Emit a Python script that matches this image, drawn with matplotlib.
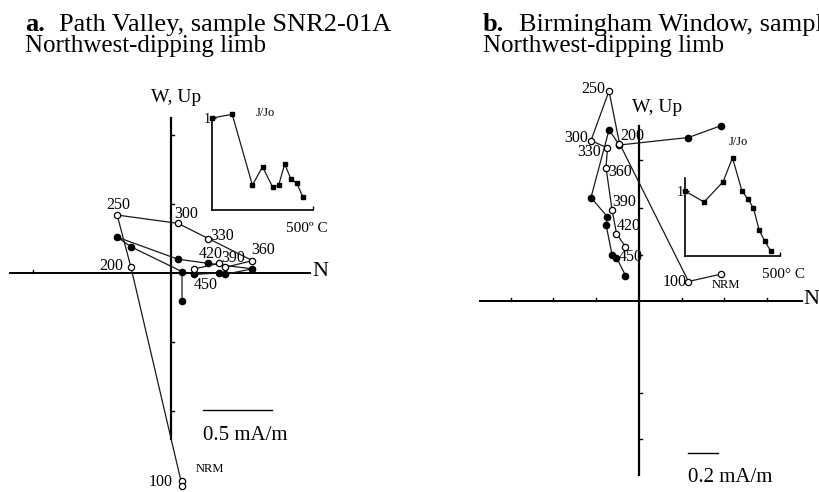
import numpy as np
import matplotlib
matplotlib.use("Agg")
import matplotlib.pyplot as plt

plt.rcParams['font.family'] = ['Liberation Serif', 'DejaVu Serif']

W_PX, H_PX = 819, 492

# demagnetization steps
steps = ['NRM', '100', '200', '250', '300', '330', '360', '390', '420', '450']
steps_c = [0, 100, 200, 250, 300, 330, 360, 390, 420, 450]

# a. Path Valley, SNR2-01A  (mA/m)
a_north = [0.08, 0.08, -0.29, -0.39, 0.05, 0.27, 0.59, 0.39, 0.35, 0.17]
a_west = [-0.20, 0.01, 0.19, 0.26, 0.10, 0.07, 0.03, -0.01, 0.00, -0.01]
a_up = [-1.51, -1.54, 0.04, 0.42, 0.36, 0.25, 0.09, 0.04, 0.07, 0.03]
a_jjo = [1.00, 1.04, 0.27, 0.47, 0.25, 0.27, 0.50, 0.34, 0.29, 0.14]

# b. Birmingham Window  (mA/m)
b_north = [0.55, 0.33, -0.13, -0.20, -0.32, -0.21, -0.22, -0.18, -0.15, -0.09]
b_west = [1.17, 1.09, 1.04, 1.14, 0.69, 0.56, 0.51, 0.31, 0.29, 0.17]
b_up = [0.18, 0.13, 1.05, 1.40, 1.07, 1.02, 0.89, 0.61, 0.45, 0.36]
b_jjo = [1.00, 0.83, 1.14, 1.51, 1.00, 0.88, 0.74, 0.40, 0.23, 0.08]

# label offsets (pixels) for each step
a_offs = [(28, 12), (-21, 4), (-20, 1), (1, 10), (8, 9), (14, 3), (11, 11), (8, 9), (-9, 9), (11, -16)]
b_offs = [(4, -11), (-14, 0), (13, 8), (-16, 2), (-15, 3), (-18, -4), (14, -4), (12, 7), (12, 7), (5, -10)]

fig = plt.figure(figsize=(W_PX / 100, H_PX / 100), dpi=100)
LC = '#1a1a1a'


def px(x, y):
    return x / W_PX, 1 - y / H_PX


def zij(ox, oy, s, north, west, up, offs, hax, vax, xt, yt, bar, bar_lbl):
    ax = fig.add_axes([0, 0, 1, 1])
    ax.set_xlim(-ox / s, (W_PX - ox) / s)
    ax.set_ylim((oy - H_PX) / s, oy / s)
    ax.axis('off')
    ax.patch.set_alpha(0)
    # axes through origin
    ax.plot(hax, [0, 0], color='k', lw=1.4)
    ax.plot([0, 0], vax, color='k', lw=1.6)
    tl = 3.5 / s
    for t in xt:
        ax.plot([t, t], [0, tl], color='k', lw=1)
    for t in yt:
        ax.plot([0, tl], [t, t], color='k', lw=1)
    # horizontal (solid) and vertical (open) projections
    ax.plot(north, west, color=LC, lw=0.9, marker='o', ms=4.5,
            mfc='k', mec='k', zorder=3)
    ax.plot(north, up, color=LC, lw=0.9, marker='o', ms=4.5,
            mfc='white', mec='k', mew=0.9, zorder=4)
    for lbl, n, u, o in zip(steps, north, up, offs):
        ax.annotate(lbl, (n, u), xytext=o, textcoords='offset pixels',
                    ha='center', va='center',
                    fontsize=9 if lbl == 'NRM' else 11.5)
    # scale bar
    ax.plot([bar[0], bar[0] + bar[1]], [bar[2], bar[2]], color='k', lw=1)
    ax.text(bar[0], bar[2] - 16 / s, bar_lbl, fontsize=15, ha='left', va='top')
    return ax


def jjo_inset(left, bottom, right, top, ymax, jjo):
    x0, y0 = px(left, bottom)
    x1, y1 = px(right, top)
    ax = fig.add_axes([x0, y0, x1 - x0, y1 - y0])
    ax.patch.set_alpha(0)
    ax.set_xlim(0, 500)
    ax.set_ylim(0, ymax)
    for sp in ['top', 'right']:
        ax.spines[sp].set_visible(False)
    for sp in ['left', 'bottom']:
        ax.spines[sp].set_linewidth(1.2)
    ax.set_xticks([500])
    ax.set_xticklabels([''])
    ax.set_yticks([1])
    ax.set_yticklabels(['1'], fontsize=10)
    ax.tick_params(direction='in', length=3, width=1, pad=1)
    ax.plot(steps_c, jjo, color=LC, lw=0.9, marker='s', ms=3.5,
            mfc='k', mec='k', clip_on=False)
    return ax


# panel a
zij(171, 273, 138, a_north, a_west, a_up, a_offs,
    hax=[-1.17, 1.01], vax=[-1.20, 1.12],
    xt=[-1.0], yt=[1.0, 0.5, -0.5, -1.0],
    bar=(0.23, 0.5, -0.99), bar_lbl='0.5 mA/m')
ia = jjo_inset(212, 210, 313, 118, 1.0, a_jjo)
ia.text(262, 1.05, 'J/Jo', fontsize=9, ha='center', va='center')
ia.text(470, -0.2, '500º C', fontsize=11, ha='center', va='center')

# panel b
zij(639, 301, 150, b_north, b_west, b_up, b_offs,
    hax=[-1.06, 1.09], vax=[-1.16, 1.17],
    xt=[-0.855, -0.57, -0.285, 0.285, 0.57, 0.855],
    yt=[0.31, 0.62, 0.94, -0.61, -0.92],
    bar=(0.33, 0.2, -1.01), bar_lbl='0.2 mA/m')
ib = jjo_inset(685, 256, 780, 178, 1.2, b_jjo)
ib.text(279, 1.75, 'J/Jo', fontsize=9, ha='center', va='center')
ib.text(521, -0.29, '500° C', fontsize=11, ha='center', va='center')

# axis names
fig.text(*px(176, 98), 'W, Up', fontsize=14, ha='center', va='center')
fig.text(*px(320, 272), 'N', fontsize=16, ha='center', va='center')
fig.text(*px(657, 108), 'W, Up', fontsize=14, ha='center', va='center')
fig.text(*px(811, 300), 'N', fontsize=16, ha='center', va='center')

# titles
fig.text(*px(25, 31), 'a.', fontsize=19, fontweight='bold', va='baseline')
fig.text(*px(59, 31), 'Path Valley, sample SNR2-01A', fontsize=19, va='baseline')
fig.text(*px(25, 52), 'Northwest-dipping limb', fontsize=18, va='baseline')
fig.text(*px(483, 31), 'b.', fontsize=19, fontweight='bold', va='baseline')
fig.text(*px(519, 31), 'Birmingham Window, sample', fontsize=19, va='baseline')
fig.text(*px(483, 52), 'Northwest-dipping limb', fontsize=18, va='baseline')

fig.savefig('out.png', dpi=100)
